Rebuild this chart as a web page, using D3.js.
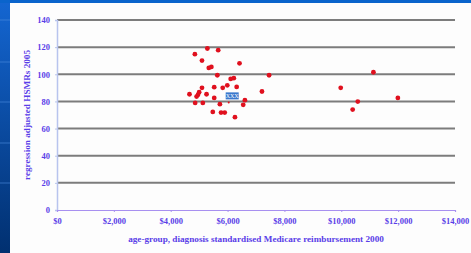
<!DOCTYPE html>
<html>
<head>
<meta charset="utf-8">
<script src="https://cdn.jsdelivr.net/npm/d3@7"></script>
<style>
  html, body { margin: 0; padding: 0; }
  body { width: 471px; height: 253px; overflow: hidden; }
</style>
</head>
<body>
<div id="chart"></div>
<script>
// data
const reimbursement = [4850, 5290, 5670, 5100, 5340, 5430, 6420, 5640, 7460, 6110, 6220,
  5990, 5530, 5830, 6320, 5100, 4660, 5000, 4960, 4910, 5260, 5530, 4860, 5130,
  5730, 5480, 5770, 5900, 6260, 6610, 6550, 7210, 9980, 11130, 10400, 10580, 11990, 6040];
const hsmr = [114.8, 119, 117.8, 110.1, 104.7, 105.4, 108.1, 99.3, 99.3, 96.6, 97.1,
  91.9, 90.5, 90.0, 90.7, 90.0, 85.3, 86.8, 84.9, 83.6, 85.3, 82.6, 78.9, 78.9,
  78.0, 72.3, 71.8, 71.8, 68.4, 80.9, 77.5, 87.3, 90.0, 101.5, 74.0, 79.9, 82.6, 79.3];
const xTicks = [0, 2000, 4000, 6000, 8000, 10000, 12000, 14000];
const yTicks = [0, 20, 40, 60, 80, 100, 120, 140];
const labelPoint = { x: 6040, y: 79.3, text: "XXX" };

const W = 471, H = 253;
const textColor = "#5a3ee8";
const font = "'Liberation Serif', serif";

const svg = d3.select("#chart").append("svg")
  .attr("width", W).attr("height", H);

// slide background
const grad = svg.append("defs").append("linearGradient")
  .attr("id", "bg").attr("x1", 0).attr("y1", 0).attr("x2", 0).attr("y2", 1);
grad.append("stop").attr("offset", 0).attr("stop-color", "#1466d2");
grad.append("stop").attr("offset", 1).attr("stop-color", "#013070");
svg.append("rect").attr("width", W).attr("height", H).attr("fill", "url(#bg)");
svg.append("rect").attr("x", 0).attr("y", 0).attr("width", W).attr("height", 3).attr("fill", "#0a64cc");

// faint lines on the left strip
[20, 62, 102, 143, 183].forEach(y => {
  svg.append("line").attr("x1", 0).attr("x2", 10).attr("y1", y).attr("y2", y)
    .attr("stroke", "#4f8ee0").attr("stroke-width", 1).attr("opacity", 0.6);
});

svg.append("rect").attr("x", 10).attr("y", 3).attr("width", W - 10).attr("height", H - 3)
  .attr("fill", "#fdfdfd");

const x = d3.scaleLinear().domain([0, 14000]).range([57, 455]);
const y = d3.scaleLinear().domain([0, 140]).range([210, 20]);

// gridlines
svg.append("g").selectAll("line")
  .data(yTicks.filter(d => d > 0))
  .join("line")
  .attr("x1", x(0)).attr("x2", x(14000))
  .attr("y1", d => y(d)).attr("y2", d => y(d))
  .attr("stroke", "#7c7c7c").attr("stroke-width", 2);

// y axis
const yAxis = svg.append("g").attr("transform", `translate(${x(0)},0)`)
  .call(d3.axisLeft(y).tickValues(yTicks).tickSize(2).tickPadding(5));
yAxis.select(".domain").attr("stroke", "#b8c4ee").attr("stroke-width", 1.5);
yAxis.selectAll(".tick line").attr("stroke", "#b8c4ee");
yAxis.selectAll("text").attr("fill", textColor).attr("font-family", font)
  .attr("font-weight", "bold").attr("font-size", 8.5);

// x axis
const xAxis = svg.append("g").attr("transform", `translate(0,${y(0)})`)
  .call(d3.axisBottom(x).tickValues(xTicks).tickSize(2).tickPadding(6)
    .tickFormat(d => "$" + d3.format(",")(d)));
xAxis.select(".domain").attr("stroke", "#a890f0").attr("stroke-width", 1.2);
xAxis.selectAll(".tick line").attr("stroke", "#a890f0");
xAxis.selectAll("text").attr("fill", textColor).attr("font-family", font)
  .attr("font-weight", "bold").attr("font-size", 8.5);

// axis titles
svg.append("text")
  .attr("x", 256).attr("y", 242).attr("text-anchor", "middle")
  .attr("fill", textColor).attr("font-family", font).attr("font-weight", "bold")
  .attr("font-size", 9.2)
  .text("age-group, diagnosis standardised Medicare reimbursement 2000");

svg.append("text")
  .attr("transform", "translate(30,115) rotate(-90)").attr("text-anchor", "middle")
  .attr("fill", textColor).attr("font-family", font).attr("font-weight", "bold")
  .attr("font-size", 9.2)
  .text("regression adjusted HSMRs 2005");

// points
const points = reimbursement.map((d, i) => ({ x: d, y: hsmr[i] }));
svg.append("g").selectAll("circle")
  .data(points.slice(0, points.length - 1))
  .join("circle")
  .attr("cx", d => x(d.x)).attr("cy", d => y(d.y))
  .attr("r", 2.4).attr("fill", "#e0101e");

// the small highlighted point and its label
svg.append("circle")
  .attr("cx", x(labelPoint.x)).attr("cy", y(labelPoint.y))
  .attr("r", 1).attr("fill", "#e0101e");
const lb = svg.append("g")
  .attr("transform", `translate(${x(labelPoint.x) + 3},${y(labelPoint.y) - 6})`);
lb.append("rect").attr("x", -6).attr("y", -4).attr("width", 13).attr("height", 7)
  .attr("fill", "#3a78cc");
lb.append("text").attr("x", 0.5).attr("y", 2).attr("text-anchor", "middle")
  .attr("fill", "#ffffff").attr("font-family", font).attr("font-size", 6)
  .text(labelPoint.text);
</script>
</body>
</html>
